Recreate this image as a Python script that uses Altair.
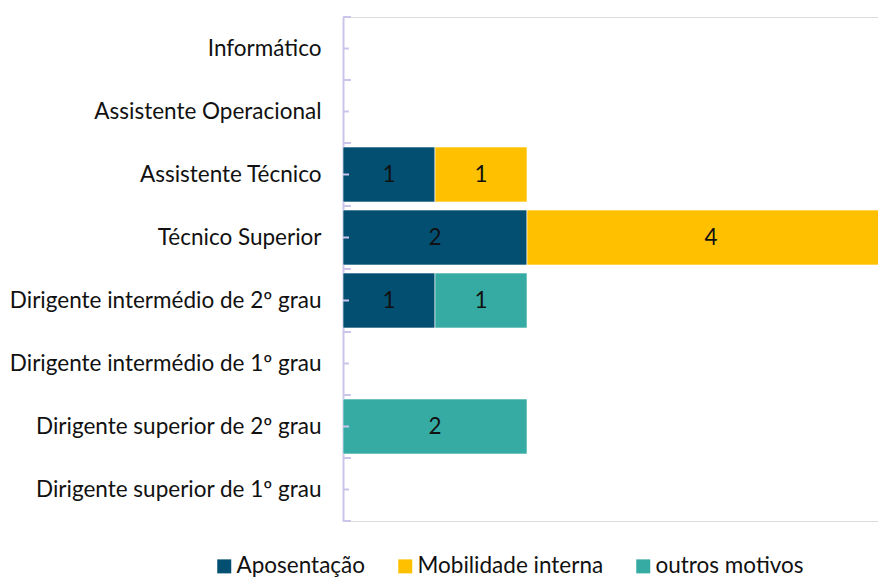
import altair as alt
import pandas as pd

categories = [
    "Informático",
    "Assistente Operacional",
    "Assistente Técnico",
    "Técnico Superior",
    "Dirigente intermédio de 2º grau",
    "Dirigente intermédio de 1º grau",
    "Dirigente superior de 2º grau",
    "Dirigente superior de 1º grau",
]
series = ["Aposentação", "Mobilidade interna", "outros motivos"]
aposentacao = [0, 0, 1, 2, 1, 0, 0, 0]
mobilidade = [0, 0, 1, 4, 0, 0, 0, 0]
outros = [0, 0, 0, 0, 1, 0, 2, 0]
colors = ["#034F71", "#FFC000", "#36ABA3"]

rows = []
for si, (name, vals) in enumerate(zip(series, [aposentacao, mobilidade, outros])):
    for c, v in zip(categories, vals):
        if v > 0:
            rows.append({"cat": c, "serie": name, "valor": v, "ordem": si})
df = pd.DataFrame(rows)
ticks_df = pd.DataFrame({"cat": categories})

FONT = "Lato"
FS = 22.5
AXIS_COLOR = "#CBC5EA"
TEXT_COLOR = "#111111"

y_enc = alt.Y(
    "cat:N",
    sort=categories,
    title=None,
    scale=alt.Scale(paddingInner=0, paddingOuter=0),
    axis=alt.Axis(
        ticks=False,
        labelFont=FONT,
        labelFontSize=FS,
        labelColor=TEXT_COLOR,
        labelPadding=22,
        labelLimit=400,
        domainColor=AXIS_COLOR,
        domainWidth=2,
        grid=False,
    ),
)

base = alt.Chart(df).transform_stack(
    stack="valor", groupby=["cat"], as_=["x0", "x1"], sort=[alt.SortField("ordem", order="ascending")]
).transform_calculate(mid="(datum.x0 + datum.x1) / 2")

xscale = alt.Scale(domain=[0, 5.815], nice=False, zero=True)

bars = base.mark_bar(height={"band": 0.873}, clip=True, stroke="white", strokeWidth=0.6).encode(
    y=y_enc,
    x=alt.X("x0:Q", scale=xscale, axis=None),
    x2="x1:Q",
    color=alt.Color(
        "serie:N",
        scale=alt.Scale(domain=series, range=colors),
        sort=series,
        legend=alt.Legend(
            title=None,
            orient="none",
            direction="horizontal",
            legendX=-130,
            legendY=538,
            symbolType="square",
            symbolSize=196,
            symbolStrokeWidth=0,
            labelFont=FONT,
            labelFontSize=FS,
            labelColor=TEXT_COLOR,
            labelOffset=1,
            labelLimit=400,
            columnPadding=28,
        ),
    ),
)

labels = base.mark_text(font=FONT, fontSize=FS, color=TEXT_COLOR, clip=True).encode(
    y=alt.Y("cat:N", sort=categories),
    x=alt.X("mid:Q", scale=xscale, axis=None),
    text="valor:Q",
)

tick_mid = alt.Chart(ticks_df).mark_rule(color=AXIS_COLOR, strokeWidth=2).encode(
    y=alt.Y("cat:N", sort=categories, bandPosition=0.5),
    x=alt.value(0),
    x2=alt.value(6),
)
tick_top = alt.Chart(ticks_df).mark_rule(color=AXIS_COLOR, strokeWidth=2).encode(
    y=alt.Y("cat:N", sort=categories, bandPosition=0),
    x=alt.value(0),
    x2=alt.value(8),
)
tick_bot = alt.Chart(ticks_df).mark_rule(color=AXIS_COLOR, strokeWidth=2).encode(
    y=alt.Y("cat:N", sort=categories, bandPosition=1),
    x=alt.value(0),
    x2=alt.value(8),
)

chart = (
    alt.layer(bars, labels, tick_mid, tick_top, tick_bot)
    .properties(
        width=535,
        height=504,
        autosize=alt.AutoSizeParams(type="none"),
        padding={"left": 335, "top": 9, "right": 0, "bottom": 57},
    )
    .configure_view(strokeWidth=0)
    .configure(background="white")
)

chart.save("out.html", embed_options={"renderer": "svg", "actions": False})
